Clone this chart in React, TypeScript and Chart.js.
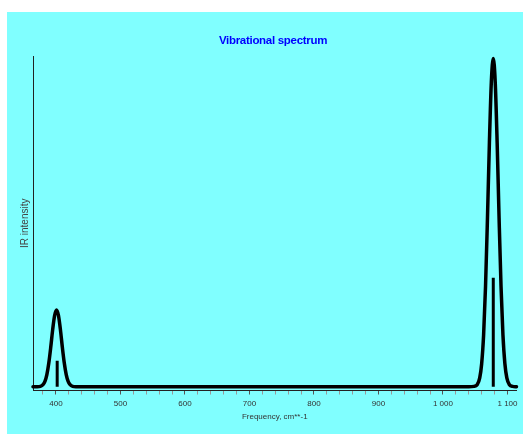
import { useEffect, useRef } from "react";
import { Chart, registerables } from "chart.js";

Chart.register(...registerables);

const TITLE = "Vibrational spectrum";
const X_TITLE = "Frequency, cm**-1";
const Y_TITLE = "IR intensity";

// Broadened spectrum
const spectrumFreq = [
  364.5, 371, 376, 380, 383, 386, 389, 392, 395, 398,
  401, 404, 407, 410, 413, 416, 419, 422, 426, 431,
  440, 600, 800, 1000, 1040,
  1048, 1053, 1057, 1060, 1063, 1066, 1069, 1072, 1075, 1078,
  1081, 1084, 1087, 1090, 1093, 1096, 1099, 1103, 1108, 1114,
];
const spectrumIntensity = [
  0, 0, 0.001, 0.006, 0.016, 0.037, 0.072, 0.12, 0.174, 0.217,
  0.234, 0.217, 0.174, 0.12, 0.072, 0.037, 0.016, 0.006, 0.001, 0,
  0, 0, 0, 0, 0,
  0.001, 0.006, 0.027, 0.07, 0.157, 0.306, 0.514, 0.744, 0.929, 1,
  0.929, 0.744, 0.514, 0.306, 0.157, 0.07, 0.027, 0.006, 0.001, 0,
];

// Stick spectrum
const stickFreq = [402, 1078];
const stickIntensity = [0.079, 0.332];

// Axis
const X_MIN = 364.5;
const X_MAX = 1114;
const Y_MIN = -0.0116;
const Y_MAX = 1.0076;
const xTickValues = [
  380, 400, 420, 440, 460, 480, 500, 520, 540, 560, 580, 600, 620, 640, 660, 680,
  700, 720, 740, 760, 780, 800, 820, 840, 860, 880, 900, 920, 940, 960, 980,
  1000, 1020, 1040, 1060, 1080, 1100,
];

const FONT = '"Liberation Sans", Arial, sans-serif';

const fmt = (v: number) => String(v).replace(/\B(?=(\d{3})+(?!\d))/g, " ");

const titlePlugin = {
  id: "customTitle",
  afterDraw(chart: any) {
    const ctx = chart.ctx;
    ctx.save();
    ctx.font = `bold 11.5px ${FONT}`;
    ctx.fillStyle = "#0000ff";
    ctx.textAlign = "center";
    ctx.textBaseline = "middle";
    try {
      (ctx as any).letterSpacing = "-0.3px";
    } catch (e) {}
    ctx.fillText(TITLE, 266, 28.5);
    ctx.restore();
  },
};

export default function App() {
  const ref = useRef<HTMLCanvasElement | null>(null);

  useEffect(() => {
    if (!ref.current) return;
    Chart.defaults.font.family = FONT;
    const spectrum = spectrumFreq.map((f, i) => ({ x: f, y: spectrumIntensity[i] }));
    const sticks = stickFreq.map((f, i) => ({
      type: "line" as const,
      data: [
        { x: f, y: 0 },
        { x: f, y: stickIntensity[i] },
      ],
      borderColor: "#000",
      borderWidth: 3,
      borderCapStyle: "butt" as const,
      pointRadius: 0,
      fill: false,
    }));
    const chart = new Chart(ref.current, {
      type: "line",
      data: {
        datasets: [
          {
            data: spectrum,
            borderColor: "#000",
            borderWidth: 3.5,
            borderCapStyle: "round",
            borderJoinStyle: "round",
            cubicInterpolationMode: "monotone",
            pointRadius: 0,
            fill: false,
            clip: false,
          } as any,
          ...sticks,
        ],
      },
      options: {
        responsive: false,
        animation: false,
        layout: { padding: { top: 44, right: 6.5, bottom: 0, left: 0 } },
        plugins: { legend: { display: false }, tooltip: { enabled: false }, title: { display: false } },
        scales: {
          x: {
            type: "linear",
            min: X_MIN,
            max: X_MAX,
            afterBuildTicks: (s: any) => {
              s.ticks = xTickValues.map((v) => ({ value: v }));
            },
            afterFit: (s: any) => {
              s.height = 43.5;
            },
            ticks: {
              autoSkip: false,
              maxRotation: 0,
              padding: 4,
              color: "#333",
              font: { size: 8, family: FONT },
              callback: (v: any) => (Number(v) % 100 === 0 ? fmt(Number(v)) : ""),
            },
            grid: {
              display: true,
              drawOnChartArea: false,
              drawTicks: true,
              tickLength: 4,
              lineWidth: 1,
              color: (c: any) => (c.tick && c.tick.value % 100 === 0 ? "#555" : "#999"),
            },
            border: { display: true, color: "#222", width: 1 },
            title: {
              display: true,
              text: X_TITLE,
              color: "#333",
              font: { size: 8, family: FONT },
              padding: { top: 0, bottom: 12 },
            },
          },
          y: {
            type: "linear",
            min: Y_MIN,
            max: Y_MAX,
            afterFit: (s: any) => {
              s.width = 26;
            },
            ticks: { display: false },
            grid: { display: false },
            border: { display: true, color: "#222", width: 1 },
            title: {
              display: true,
              text: Y_TITLE,
              color: "#444",
              font: { size: 10, family: FONT },
              padding: { top: 12, bottom: 0 },
            },
          },
        },
      },
      plugins: [titlePlugin],
    } as any);
    return () => chart.destroy();
  }, []);

  return (
    <div
      style={{
        position: "absolute",
        left: 7,
        top: 12,
        width: 516,
        height: 422,
        background: "#80ffff",
      }}
    >
      <canvas ref={ref} width={516} height={422} style={{ display: "block" }} />
    </div>
  );
}
